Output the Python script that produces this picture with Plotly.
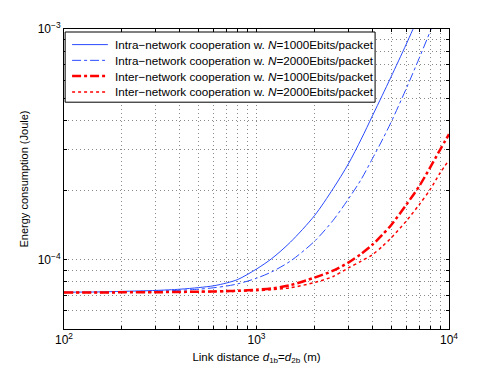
import plotly.graph_objects as go

# link distance d1b = d2b (m)
distance = [100, 150, 200, 300, 400, 500, 600, 700, 800, 1000, 1200, 1500,
            2000, 2500, 3000, 3500, 4000, 4500, 5000, 6000, 7000, 8000, 9000, 10000]

# energy consumption (Joule)
intra_1000 = [7.22e-5, 7.24e-5, 7.28e-5, 7.35e-5, 7.44e-5, 7.56e-5, 7.7e-5, 7.92e-5,
              8.2e-5, 9.1e-5, 1.01e-4, 1.19e-4, 1.55e-4, 2.03e-4, 2.6e-4, 3.33e-4,
              4.2e-4, 5.15e-4, 6.2e-4, 8.6e-4, 1.15e-3, 1.5e-3, 1.9e-3, 2.35e-3]
intra_2000 = [7.21e-5, 7.22e-5, 7.24e-5, 7.3e-5, 7.36e-5, 7.44e-5, 7.55e-5, 7.68e-5,
              7.85e-5, 8.3e-5, 8.85e-5, 9.85e-5, 1.2e-4, 1.48e-4, 1.83e-4, 2.23e-4,
              2.74e-4, 3.3e-4, 3.94e-4, 5.52e-4, 7.47e-4, 9.8e-4, 1.25e-3, 1.55e-3]
inter_1000 = [7.2e-5, 7.2e-5, 7.21e-5, 7.22e-5, 7.24e-5, 7.26e-5, 7.28e-5, 7.3e-5,
              7.33e-5, 7.4e-5, 7.5e-5, 7.75e-5, 8.35e-5, 8.95e-5, 9.7e-5, 1.06e-4,
              1.16e-4, 1.28e-4, 1.41e-4, 1.73e-4, 2.08e-4, 2.52e-4, 3.0e-4, 3.5e-4]
inter_2000 = [7.2e-5, 7.2e-5, 7.21e-5, 7.22e-5, 7.23e-5, 7.24e-5, 7.26e-5, 7.27e-5,
              7.29e-5, 7.33e-5, 7.4e-5, 7.55e-5, 7.95e-5, 8.45e-5, 9.2e-5, 9.85e-5,
              1.05e-4, 1.14e-4, 1.24e-4, 1.47e-4, 1.73e-4, 2.02e-4, 2.38e-4, 2.7e-4]

names = [
    "Intra−network cooperation w. <i>N</i>=1000Ebits/packet",
    "Intra−network cooperation w. <i>N</i>=2000Ebits/packet",
    "Inter−network cooperation w. <i>N</i>=1000Ebits/packet",
    "Inter−network cooperation w. <i>N</i>=2000Ebits/packet",
]

x_ticks = [m * 10 ** e for e in (2, 3) for m in range(1, 10)] + [10000]
x_text = ["10<sup>2</sup>" if v == 100 else "10<sup>3</sup>" if v == 1000 else
          "10<sup>4</sup>" if v == 10000 else "" for v in x_ticks]
y_ticks = [5e-5, 6e-5, 7e-5, 8e-5, 9e-5] + [m * 1e-4 for m in range(1, 10)] + [1e-3]
y_text = ["10<sup>−4</sup>" if abs(v - 1e-4) < 1e-12 else
          "10<sup>−3</sup>" if abs(v - 1e-3) < 1e-12 else "" for v in y_ticks]

blue = "#2a4bff"
red = "#ff0000"
styles = [
    dict(color=blue, width=1, dash="solid"),
    dict(color=blue, width=1, dash="dashdot"),
    dict(color=red, width=2.5, dash="dashdot"),
    dict(color=red, width=1.5, dash="dot"),
]
series = [intra_1000, intra_2000, inter_1000, inter_2000]

fig = go.Figure()
for name, vals, st in zip(names, series, styles):
    fig.add_trace(go.Scatter(x=distance, y=vals, mode="lines", name=name,
                             line=dict(shape="spline", smoothing=0.8, **st),
                             showlegend=False))

# legend drawn by hand so the rows sit as tight as in the original
shapes = [dict(type="rect", xref="paper", yref="paper", x0=0.003, x1=0.808,
               y0=0.756, y1=0.990, fillcolor="white",
               line=dict(color="black", width=1), layer="above")]
annotations = []
row_y = [0.948, 0.8955, 0.843, 0.790]
for name, st, ry in zip(names, styles, row_y):
    shapes.append(dict(type="line", xref="paper", yref="paper", x0=0.021, x1=0.114,
                       y0=ry, y1=ry, line=dict(color=st["color"], width=st["width"],
                                               dash=st["dash"]), layer="above"))
    annotations.append(dict(text=name, xref="paper", yref="paper", x=0.126, y=ry,
                            xanchor="left", yanchor="middle", showarrow=False,
                            font=dict(size=11.7, color="black")))

axis_common = dict(
    showline=True, mirror="ticks", linecolor="black", linewidth=1,
    ticks="inside", ticklen=3, tickcolor="black",
    showgrid=True, gridcolor="#8a8a8a", griddash="1px,3px", gridwidth=1,
    zeroline=False, tickfont=dict(size=12, color="black"),
)

fig.update_layout(
    width=488, height=365,
    margin=dict(l=56, r=47, t=19, b=43),
    paper_bgcolor="white", plot_bgcolor="white",
    font=dict(family="Liberation Sans, Arial, sans-serif", size=11, color="black"),
    showlegend=False,
    shapes=shapes, annotations=annotations,
    xaxis=dict(type="log", range=[2, 4], tickvals=x_ticks, ticktext=x_text,
               title=dict(text="Link distance <i>d</i><sub>1b</sub>=<i>d</i><sub>2b</sub> (m)",
                          standoff=6, font=dict(size=11.5)),
               **axis_common),
    yaxis=dict(type="log", range=[-4.301, -3], tickvals=y_ticks, ticktext=y_text,
               title=dict(text="Energy consumption (Joule)", standoff=6, font=dict(size=11)),
               **axis_common),
)

fig.write_html("out.html")
